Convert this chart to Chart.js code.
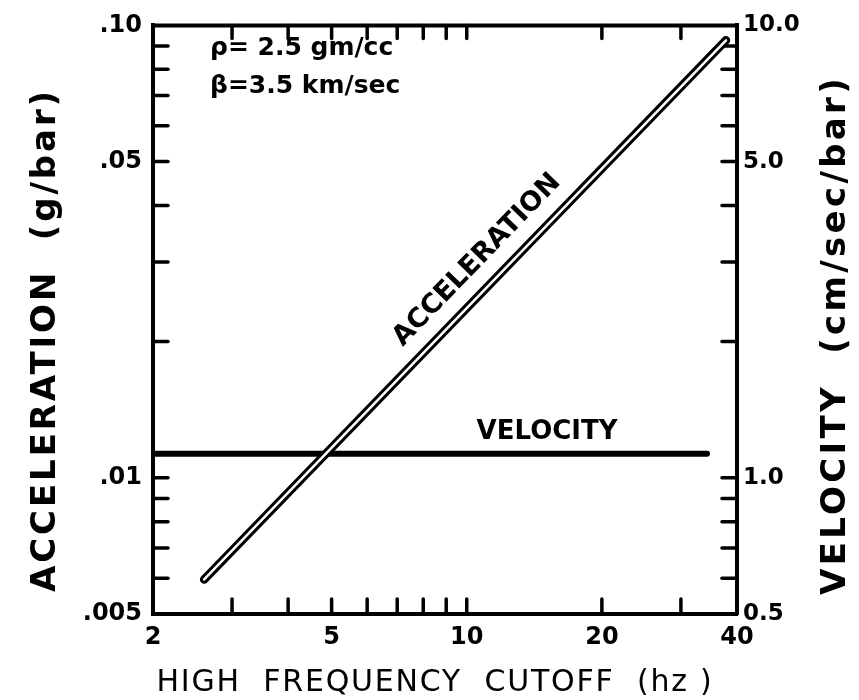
<!DOCTYPE html>
<html><head><meta charset="utf-8">
<script src="https://cdn.jsdelivr.net/npm/chart.js@4/dist/chart.umd.min.js"></script>
<style>html,body{margin:0;padding:0;background:#fff;}</style>
</head><body>
<canvas id="c" width="859" height="700"></canvas>
<script>
// ---- data ----
const accelFreq = [2.6, 37.8];          // Hz
const accelValue = [0.00596, 0.0927];   // g/bar
const velFreq = [2, 34.3];              // Hz
const velValue = [1.13, 1.13];          // cm/sec/bar
const xLabelValues = [2, 5, 10, 20, 40];
const xTickLabels = ['2', '5', '10', '20', '40'];
const xMinorTicks = [3, 4, 5, 6, 7, 8, 9, 10, 20, 30];
const yLabelValues = [0.005, 0.01, 0.05, 0.10];
const yTickLabels = ['.005', '.01', '.05', '.10'];
const yMinorTicks = [0.006, 0.007, 0.008, 0.009, 0.01, 0.02, 0.03, 0.04, 0.05, 0.06, 0.07, 0.08, 0.09];
const y2LabelValues = [0.5, 1, 5, 10];
const y2TickLabels = ['0.5', '1.0', '5.0', '10.0'];
const y2MinorTicks = [0.6, 0.7, 0.8, 0.9, 1, 2, 3, 4, 5, 6, 7, 8, 9];
const xTitle = 'HIGH  FREQUENCY  CUTOFF  (hz )';
const yTitle = 'ACCELERATION  (g/bar)';
const y2Title = 'VELOCITY  (cm/sec/bar)';
const noteLines = ['ρ= 2.5 gm/cc', 'β=3.5 km/sec'];
const accelLabel = 'ACCELERATION';
const velLabel = 'VELOCITY';

const pts = (xs, ys) => xs.map((x, i) => ({x: x, y: ys[i]}));
const FAM = '"DejaVu Sans", sans-serif';

function drawText(ctx, text, x, y, font, opts) {
  opts = opts || {};
  ctx.save();
  ctx.translate(x, y);
  if (opts.rot) ctx.rotate(opts.rot);
  ctx.font = font;
  ctx.fillStyle = '#000';
  ctx.textAlign = opts.align || 'center';
  ctx.textBaseline = 'middle';
  if (opts.width) {
    ctx.letterSpacing = '0px';
    const w = ctx.measureText(text).width;
    const n = [...text].length;
    ctx.letterSpacing = ((opts.width - w) / n) + 'px';
  }
  ctx.fillText(text, 0, 0);
  ctx.restore();
}

const framePlugin = {
  id: 'frame',
  beforeDatasetsDraw(chart) {
    const {ctx, chartArea: a, scales} = chart;
    ctx.save();
    ctx.strokeStyle = '#000';
    ctx.lineCap = 'round';
    // top border
    ctx.lineWidth = 4;
    ctx.beginPath(); ctx.moveTo(a.left, a.top); ctx.lineTo(a.right, a.top); ctx.stroke();
    ctx.lineWidth = 3.5;
    const L = 15;
    xMinorTicks.forEach(v => {
      const px = scales.x.getPixelForValue(v);
      ctx.beginPath(); ctx.moveTo(px, a.bottom); ctx.lineTo(px, a.bottom - L); ctx.stroke();
      ctx.beginPath(); ctx.moveTo(px, a.top); ctx.lineTo(px, a.top + L - 2); ctx.stroke();
    });
    yMinorTicks.forEach(v => {
      const py = scales.y.getPixelForValue(v);
      ctx.beginPath(); ctx.moveTo(a.left, py); ctx.lineTo(a.left + L, py); ctx.stroke();
    });
    y2MinorTicks.forEach(v => {
      const py = scales.y2.getPixelForValue(v);
      ctx.beginPath(); ctx.moveTo(a.right, py); ctx.lineTo(a.right - L, py); ctx.stroke();
    });
    ctx.restore();
  },
  afterDraw(chart) {
    const {ctx, chartArea: a, scales} = chart;
    drawText(ctx, xTitle, 435, 683, '400 30px ' + FAM, {width: 557});
    drawText(ctx, yTitle, 46, 340, 'bold 34px ' + FAM, {rot: -Math.PI / 2, width: 504});
    drawText(ctx, y2Title, 836, 335, 'bold 34px ' + FAM, {rot: -Math.PI / 2, width: 520});
    drawText(ctx, noteLines[0], 210, 48, 'bold 25px ' + FAM, {align: 'left'});
    drawText(ctx, noteLines[1], 210, 86, 'bold 25px ' + FAM, {align: 'left'});
    // VELOCITY label above the velocity line
    drawText(ctx, velLabel, scales.x.getPixelForValue(15.1), scales.y2.getPixelForValue(velValue[0]) - 22, 'bold 26px ' + FAM);
    // ACCELERATION label along the line
    const x0 = scales.x.getPixelForValue(accelFreq[0]), y0 = scales.y.getPixelForValue(accelValue[0]);
    const x1 = scales.x.getPixelForValue(accelFreq[1]), y1 = scales.y.getPixelForValue(accelValue[1]);
    const ang = Math.atan2(y1 - y0, x1 - x0);
    const fx = scales.x.getPixelForValue(11.6);
    const t = (fx - x0) / (x1 - x0);
    const fy = y0 + t * (y1 - y0);
    const off = 26;
    const cx = fx + off * Math.sin(ang), cy = fy - off * Math.cos(ang);
    drawText(ctx, accelLabel, cx, cy, 'bold 27px ' + FAM, {rot: ang});
  }
};

new Chart(document.getElementById('c'), {
  type: 'line',
  data: {
    datasets: [
      {label: 'Acceleration core', data: pts(accelFreq, accelValue), yAxisID: 'y',
       borderColor: '#fff', borderWidth: 2.5, borderCapStyle: 'round', pointRadius: 0, tension: 0},
      {label: 'Acceleration', data: pts(accelFreq, accelValue), yAxisID: 'y',
       borderColor: '#000', borderWidth: 8.5, borderCapStyle: 'round', pointRadius: 0, tension: 0},
      {label: 'Velocity', data: pts(velFreq, velValue), yAxisID: 'y2',
       borderColor: '#000', borderWidth: 6, borderCapStyle: 'round', pointRadius: 0, tension: 0}
    ]
  },
  options: {
    responsive: false,
    devicePixelRatio: 1,
    animation: false,
    layout: {padding: {top: 19, left: 0, right: 0, bottom: 0}},
    plugins: {legend: {display: false}, tooltip: {enabled: false}},
    scales: {
      x: {
        type: 'logarithmic', position: 'bottom', min: 2, max: 40,
        afterFit: s => { s.height = 86; },
        afterBuildTicks: s => { s.ticks = xLabelValues.map(v => ({value: v})); },
        ticks: {callback: (v, i) => xTickLabels[i], color: '#000', padding: 9,
                maxRotation: 0, autoSkip: false, font: {family: FAM, size: 24, weight: 'bold'}},
        grid: {display: false, drawTicks: false},
        border: {display: true, color: '#000', width: 4}
      },
      y: {
        type: 'logarithmic', position: 'left', min: 0.005, max: 0.1,
        afterFit: s => { s.width = 153; },
        afterBuildTicks: s => { s.ticks = yLabelValues.map(v => ({value: v})); },
        ticks: {callback: (v, i) => yTickLabels[i], color: '#000', padding: 11,
                autoSkip: false, font: {family: FAM, size: 24, weight: 'bold'}},
        grid: {display: false, drawTicks: false},
        border: {display: true, color: '#000', width: 4}
      },
      y2: {
        type: 'logarithmic', position: 'right', min: 0.5, max: 10,
        afterFit: s => { s.width = 122; },
        afterBuildTicks: s => { s.ticks = y2LabelValues.map(v => ({value: v})); },
        ticks: {callback: (v, i) => y2TickLabels[i], color: '#000', padding: 6,
                autoSkip: false, font: {family: FAM, size: 23, weight: 'bold'}},
        grid: {display: false, drawTicks: false},
        border: {display: true, color: '#000', width: 4}
      }
    }
  },
  plugins: [framePlugin]
});
</script>
</body></html>
